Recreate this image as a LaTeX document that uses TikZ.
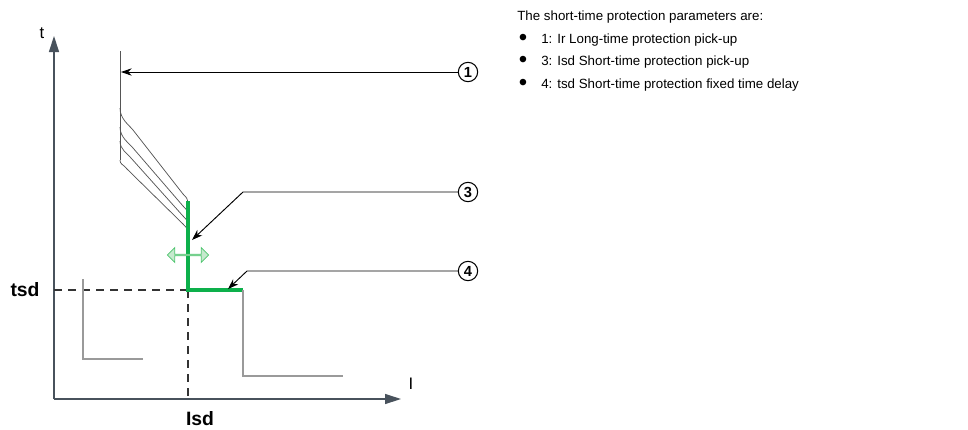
\documentclass[tikz,border=0pt]{standalone}
\usepackage{fontspec}
\setmainfont{Liberation Sans}
\usepackage{xcolor}
\usetikzlibrary{arrows.meta,positioning,calc,shapes.arrows}
\definecolor{axisslate}{HTML}{48525C}
\definecolor{tripgreen}{HTML}{0DB04B}
\definecolor{adjfill}{HTML}{C6E9CE}
\definecolor{adjline}{HTML}{4CC46C}
\definecolor{stepgray}{HTML}{9A9A9A}
\definecolor{curvegray}{HTML}{555555}

\begin{document}
\begin{tikzpicture}[x=0.75pt,y=-0.75pt,
  every node/.style={font=\fontsize{10}{12}\selectfont,inner sep=0pt},
  axis/.style={draw=axisslate,line width=1pt,-{Triangle[length=12pt,width=7.5pt]}},
  curve/.style={draw=curvegray,line width=0.55pt},
  trip/.style={draw=tripgreen,line width=2.3pt},
  stepline/.style={draw=stepgray,line width=0.8pt},
  guide/.style={draw=black!80,line width=0.8pt,dash pattern=on 6pt off 4.5pt},
  callout/.style={circle,draw=black,line width=0.8pt,minimum size=14.5pt,font=\fontsize{11}{12}\selectfont\bfseries},
  pointer/.style={draw=black,line width=0.7pt,-{Stealth[length=8pt,width=5.5pt]}},
  axisname/.style={font=\fontsize{12.5}{14}\selectfont},
  axislabel/.style={font=\fontsize{14.5}{16}\selectfont\bfseries},
  itemtext/.style={anchor=west}
]
  \useasboundingbox (0,0) rectangle (968,429);
  % axes
  \coordinate (o) at (54,399);
  \coordinate (ttop) at (54,36);
  \coordinate (iend) at (401,399);
  \draw[axis] (o) -- (ttop);
  \draw[axis] (o) -- (iend);
  \node[axisname] (tlab) at (42,33) {t};
  \node[axisname] (ilab) at (411,384) {I};
  \node[axislabel] (tsd) at (25,290) {tsd};
  \node[axislabel] (isd) at (200,419) {Isd};
  % guides at Isd / tsd
  \coordinate (knee) at (188,290);
  \draw[guide] (54,290) -- (knee);
  \draw[guide] (knee) -- (188,399);
  % long-time curves
  \draw[curve] (120,51) -- (120,160);
  \foreach \ya/\xa/\yc/\yb in {108/133/130/202,127/133/148/214,141/131/158/224,160/127/169/232}{
    \draw[curve] (120,\ya) .. controls (120,{(\ya+\yc)/2}) and (\xa-4,\yc-5) .. (\xa,\yc)
      -- (183,\yb-8) .. controls (186,\yb-5) and (188,\yb-3) .. (188,\yb);
  }
  % short-time step
  \draw[trip] (188,201) -- (knee) -- (243,290);
  \draw[stepline] (243,290) -- (243,376) -- (343,376);
  \draw[stepline] (83,279) -- (83,359) -- (143,359);
  \node[double arrow,draw=adjline,fill=adjfill,line width=0.6pt,
        minimum height=31pt,minimum width=11pt,double arrow head extend=2.5pt,
        inner sep=0pt] (adj) at (188,255) {};
  % callouts
  \node[callout] (c1) at (468,72) {1};
  \node[callout] (c3) at (468,192) {3};
  \node[callout] (c4) at (468,271) {4};
  \coordinate (p1) at (121,72);
  \coordinate (b3) at (243,192);
  \coordinate (p3) at (192,240);
  \coordinate (b4) at (247,271);
  \coordinate (p4) at (228,289);
  \draw[pointer] (c1.west) -- (p1);
  \draw[pointer] (c3.west) -- (b3) -- (p3);
  \draw[pointer] (c4.west) -- (b4) -- (p4);
  % parameter list
  \node[itemtext] (hdr) at (517,17) {The short-time protection parameters are:};
  \foreach \y/\txt [count=\k] in {40/{1: Ir Long-time protection pick-up},
      62/{3: Isd Short-time protection pick-up},
      85/{4: tsd Short-time protection fixed time delay}}{
    \node (bul\k) at (523,\y) {\scalebox{1.8}{\textbullet}};
    \node[itemtext] (item\k) at (541,\y) {\txt};
  }
\end{tikzpicture}
\end{document}
